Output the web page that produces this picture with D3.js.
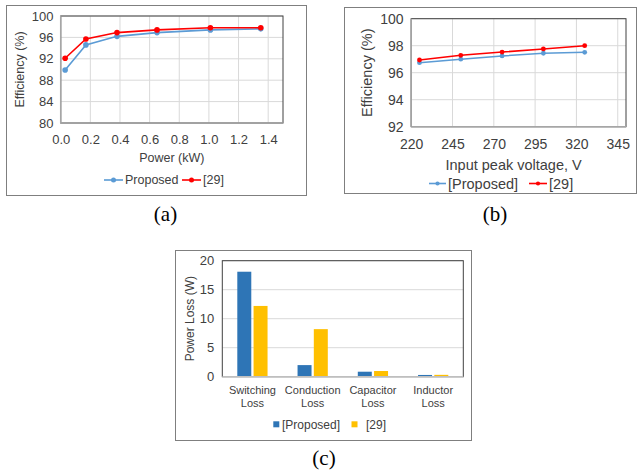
<!DOCTYPE html>
<html><head><meta charset="utf-8">
<script src="https://cdn.jsdelivr.net/npm/d3@7"></script>
<style>body{margin:0;background:#fff}svg{display:block}text{font-family:"Liberation Sans",Arial,sans-serif;fill:#404040}</style>
</head><body><svg id="c" width="639" height="472"></svg>
<script>
// Chart (a) data
const powerKW = [0.03, 0.17, 0.38, 0.65, 1.01, 1.35];
const effProposedA = [89.9, 94.6, 96.2, 96.9, 97.4, 97.6];
const eff29A = [92.1, 95.7, 96.9, 97.4, 97.8, 97.8];
const ticksA_x = [0, 0.2, 0.4, 0.6, 0.8, 1, 1.2, 1.4];
const ticksA_y = [80, 84, 88, 92, 96, 100];
// Chart (b) data
const voltage = [225, 250, 275, 300, 325];
const effProposedB = [96.74, 97.0, 97.24, 97.44, 97.51];
const eff29B = [96.94, 97.29, 97.53, 97.76, 98.0];
const ticksB_x = [220, 245, 270, 295, 320, 345];
const ticksB_y = [92, 94, 96, 98, 100];
// Chart (c) data
const lossCategories = [["Switching","Loss"],["Conduction","Loss"],["Capacitor","Loss"],["Inductor","Loss"]];
const lossProposed = [18.1, 2.0, 0.86, 0.3];
const loss29 = [12.2, 8.2, 0.98, 0.32];
const ticksC_y = [0, 5, 10, 15, 20];

const svg = d3.select("#c");
const BLUE = "#5b9bd5", RED = "#ff0000", BAR1 = "#2e75b6", BAR2 = "#ffc000", GRID = "#d9d9d9";

function frame(x0,y0,x1,y1){
  svg.append("rect").attr("x",x0+0.5).attr("y",y0+0.5).attr("width",x1-x0).attr("height",y1-y0)
    .attr("fill","none").attr("stroke","#7f7f7f").attr("stroke-width",1);
}

function lineChart(o){
  const x = d3.scaleLinear().domain(o.xdom).range([o.l,o.r]);
  const y = d3.scaleLinear().domain(o.ydom).range([o.b,o.t]);
  const g = svg.append("g");
  g.selectAll(".vg").data(o.xt).enter().append("line")
    .attr("x1",d=>x(d)).attr("x2",d=>x(d)).attr("y1",o.t).attr("y2",o.b).attr("stroke",GRID);
  g.selectAll(".hg").data(o.yt).enter().append("line")
    .attr("x1",o.l).attr("x2",o.r).attr("y1",d=>y(d)).attr("y2",d=>y(d)).attr("stroke",GRID);
  g.append("rect").attr("x",o.l).attr("y",o.t).attr("width",o.r-o.l).attr("height",o.b-o.t)
    .attr("fill","none").attr("stroke","#404040").attr("stroke-width",1);
  g.append("line").attr("x1",o.l).attr("x2",o.r).attr("y1",o.b).attr("y2",o.b).attr("stroke","#a6a6a6").attr("stroke-width",1.5);
  g.append("line").attr("x1",o.l).attr("x2",o.l).attr("y1",o.t).attr("y2",o.b).attr("stroke","#a6a6a6").attr("stroke-width",1.5);
  const ax = d3.axisBottom(x).tickValues(o.xt).tickSize(0).tickPadding(o.fs*0.9);
  const gx = g.append("g").attr("transform",`translate(0,${o.b})`).call(ax);
  gx.select(".domain").remove();
  gx.selectAll("text").style("font-size",o.fs+"px").attr("fill","#404040").style("font-family","Liberation Sans");
  const ay = d3.axisLeft(y).tickValues(o.yt).tickSize(0).tickPadding(o.fs*0.55);
  const gy = g.append("g").attr("transform",`translate(${o.l},0)`).call(ay);
  gy.select(".domain").remove();
  gy.selectAll("text").style("font-size",o.fs+"px").attr("fill","#404040").style("font-family","Liberation Sans");
  g.append("text").attr("x",(o.l+o.r)/2+o.xtdx).attr("y",o.xty).attr("text-anchor","middle")
    .style("font-size",o.tfs+"px").text(o.xtitle);
  g.append("text").attr("transform",`translate(${o.ytx},${(o.t+o.b)/2}) rotate(-90)`).attr("text-anchor","middle")
    .attr("dy","0.35em").style("font-size",o.tfs+"px").text(o.ytitle);
  o.series.forEach(s=>{
    const pts = s.xs.map((v,i)=>[v,s.ys[i]]);
    g.append("path").attr("d",d3.line().x(d=>x(d[0])).y(d=>y(d[1]))(pts))
      .attr("fill","none").attr("stroke",s.color).attr("stroke-width",1.6);
    g.selectAll(null).data(pts).enter().append("circle").attr("cx",d=>x(d[0])).attr("cy",d=>y(d[1]))
      .attr("r",o.mr).attr("fill",s.color);
  });
  o.legend.forEach(L=>{
    g.append("line").attr("x1",L.x).attr("x2",L.x+L.w).attr("y1",o.ly).attr("y2",o.ly).attr("stroke",L.color).attr("stroke-width",1.6);
    g.append("circle").attr("cx",L.x+L.w/2).attr("cy",o.ly).attr("r",o.mr-0.3).attr("fill",L.color);
    g.append("text").attr("x",L.x+L.w+2).attr("y",o.ly).attr("dy","0.35em").style("font-size",o.tfs+"px").text(L.label);
  });
}

// (a)
frame(6,5,306,195);
lineChart({xdom:[0,1.5],ydom:[80,100],l:60.7,r:283,t:16,b:123,xt:ticksA_x,yt:ticksA_y,fs:13,tfs:12.5,mr:2.8,
  xtitle:"Power (kW)",xtdx:0,xty:162,ytitle:"Efficiency (%)",ytx:20,ly:180,
  series:[{xs:powerKW,ys:effProposedA,color:BLUE},{xs:powerKW,ys:eff29A,color:RED}],
  legend:[{x:104,w:19,color:BLUE,label:"Proposed"},{x:182,w:19,color:RED,label:"[29]"}]});

// (b)
frame(344,7,636,193);
lineChart({xdom:[220,350],ydom:[92,100],l:411.2,r:626,t:18.7,b:126.7,xt:ticksB_x,yt:ticksB_y,fs:14,tfs:14.5,mr:2.4,
  xtitle:"Input peak voltage, V",xtdx:-5,xty:170,ytitle:"Efficiency (%)",ytx:367,ly:183.5,
  series:[{xs:voltage,ys:effProposedB,color:BLUE},{xs:voltage,ys:eff29B,color:RED}],
  legend:[{x:429,w:17,color:BLUE,label:"[Proposed]"},{x:529,w:18,color:RED,label:"[29]"}]});

// (c)
frame(175,250,471,440);
(function(){
  const l=222.3, r=463.3, t=260.7, b=376.7;
  const x = d3.scaleBand().domain(d3.range(lossCategories.length)).range([l,r]).paddingInner(0).paddingOuter(0);
  const xs = d3.scaleBand().domain([0,1]).range([15, x.bandwidth()-15]).paddingInner(0.14);
  const y = d3.scaleLinear().domain([0,20]).range([b,t]);
  const g = svg.append("g");
  g.selectAll(null).data(ticksC_y.slice(1)).enter().append("line")
    .attr("x1",l).attr("x2",r).attr("y1",d=>y(d)).attr("y2",d=>y(d)).attr("stroke",GRID);
  g.append("rect").attr("x",l).attr("y",t).attr("width",r-l).attr("height",b-t).attr("fill","none").attr("stroke","#404040");
  [lossProposed, loss29].forEach((arr,si)=>{
    g.selectAll(null).data(arr).enter().append("rect")
      .attr("x",(d,i)=>x(i)+xs(si)).attr("width",xs.bandwidth())
      .attr("y",d=>y(d)).attr("height",d=>b-y(d)).attr("fill",si?BAR2:BAR1);
  });
  g.append("line").attr("x1",l).attr("x2",r).attr("y1",b).attr("y2",b).attr("stroke","#bfbfbf").attr("stroke-width",1.5);
  const gy = g.append("g").attr("transform",`translate(${l},0)`).call(d3.axisLeft(y).tickValues(ticksC_y).tickSize(0).tickPadding(8));
  gy.select(".domain").remove();
  gy.selectAll("text").style("font-size","13px").attr("fill","#404040").style("font-family","Liberation Sans");
  g.selectAll(null).data(lossCategories).enter().append("text")
    .attr("x",(d,i)=>x(i)+x.bandwidth()/2).attr("y",390).attr("text-anchor","middle").style("font-size","11px")
    .each(function(d){
      const s=d3.select(this);
      d.forEach((w,k)=>s.append("tspan").attr("x",s.attr("x")).attr("dy",k?"1.15em":"0.35em").text(w));
    });
  g.append("text").attr("transform",`translate(189.5,${(t+b)/2}) rotate(-90)`).attr("text-anchor","middle")
    .attr("dy","0.35em").style("font-size","12px").text("Power Loss (W)");
  const ly=424.3;
  g.append("rect").attr("x",273.3).attr("y",ly-3).attr("width",6).attr("height",6).attr("fill",BAR1);
  g.append("text").attr("x",282).attr("y",ly).attr("dy","0.35em").style("font-size","12px").text("[Proposed]");
  g.append("rect").attr("x",351.5).attr("y",ly-3).attr("width",6).attr("height",6).attr("fill",BAR2);
  g.append("text").attr("x",366).attr("y",ly).attr("dy","0.35em").style("font-size","12px").text("[29]");
})();

// captions
const caps=[["(a)",165.5,221],["(b)",495,221],["(c)",324,464.5]];
svg.selectAll(null).data(caps).enter().append("text").attr("x",d=>d[1]).attr("y",d=>d[2])
  .attr("text-anchor","middle").style("font-family","'Liberation Serif','Times New Roman',serif")
  .style("font-size","21px").style("fill","#000").text(d=>d[0]);
</script></body></html>
